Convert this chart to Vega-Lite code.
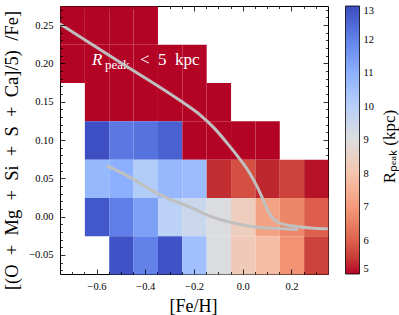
{
  "$schema": "https://vega.github.io/schema/vega-lite/v6.json",
  "width": 268,
  "height": 268,
  "autosize": {"type": "none"},
  "padding": {"left": 60, "top": 6, "right": 71, "bottom": 41},
  "background": "white",
  "config": {
    "view": {"stroke": "black", "strokeWidth": 1},
    "font": "Liberation Serif",
    "axis": {
      "grid": false,
      "domain": false,
      "labelFont": "Liberation Serif",
      "labelFontSize": 10.5,
      "labelColor": "black",
      "tickColor": "black",
      "tickWidth": 0.8,
      "titleFont": "Liberation Serif",
      "titleColor": "black",
      "titleFontWeight": "normal",
      "labelOverlap": false,
      "labelFlush": false
    },
    "legend": {
      "labelFont": "Liberation Serif",
      "titleFont": "Liberation Serif",
      "titleFontWeight": "normal",
      "labelColor": "black",
      "titleColor": "black"
    }
  },
  "datasets": {
    "cells": [
      {"fe": -0.75, "a": 0.225, "R": 4.8},
      {"fe": -0.65, "a": 0.225, "R": 4.8},
      {"fe": -0.55, "a": 0.225, "R": 4.8},
      {"fe": -0.45, "a": 0.225, "R": 4.8},
      {"fe": -0.75, "a": 0.175, "R": 4.8},
      {"fe": -0.65, "a": 0.175, "R": 4.8},
      {"fe": -0.55, "a": 0.175, "R": 4.8},
      {"fe": -0.45, "a": 0.175, "R": 4.8},
      {"fe": -0.35, "a": 0.175, "R": 4.8},
      {"fe": -0.25, "a": 0.175, "R": 4.8},
      {"fe": -0.65, "a": 0.125, "R": 4.8},
      {"fe": -0.55, "a": 0.125, "R": 4.8},
      {"fe": -0.45, "a": 0.125, "R": 4.8},
      {"fe": -0.35, "a": 0.125, "R": 4.8},
      {"fe": -0.25, "a": 0.125, "R": 4.8},
      {"fe": -0.15, "a": 0.125, "R": 4.8},
      {"fe": -0.65, "a": 0.075, "R": 12.95},
      {"fe": -0.55, "a": 0.075, "R": 12.2},
      {"fe": -0.45, "a": 0.075, "R": 12.3},
      {"fe": -0.35, "a": 0.075, "R": 12.6},
      {"fe": -0.25, "a": 0.075, "R": 4.8},
      {"fe": -0.15, "a": 0.075, "R": 4.8},
      {"fe": -0.05, "a": 0.075, "R": 4.8},
      {"fe": 0.05, "a": 0.075, "R": 4.8},
      {"fe": -0.65, "a": 0.025, "R": 10.77},
      {"fe": -0.55, "a": 0.025, "R": 11.0},
      {"fe": -0.45, "a": 0.025, "R": 10.14},
      {"fe": -0.35, "a": 0.025, "R": 10.75},
      {"fe": -0.25, "a": 0.025, "R": 10.65},
      {"fe": -0.15, "a": 0.025, "R": 5.3},
      {"fe": -0.05, "a": 0.025, "R": 5.76},
      {"fe": 0.05, "a": 0.025, "R": 5.24},
      {"fe": 0.15, "a": 0.025, "R": 5.58},
      {"fe": 0.25, "a": 0.025, "R": 5.07},
      {"fe": -0.65, "a": -0.025, "R": 12.8},
      {"fe": -0.55, "a": -0.025, "R": 12.08},
      {"fe": -0.45, "a": -0.025, "R": 11.35},
      {"fe": -0.35, "a": -0.025, "R": 9.9},
      {"fe": -0.25, "a": -0.025, "R": 9.54},
      {"fe": -0.15, "a": -0.025, "R": 9.1},
      {"fe": -0.05, "a": -0.025, "R": 8.36},
      {"fe": 0.05, "a": -0.025, "R": 7.19},
      {"fe": 0.15, "a": -0.025, "R": 6.66},
      {"fe": 0.25, "a": -0.025, "R": 5.97},
      {"fe": -0.55, "a": -0.075, "R": 12.87},
      {"fe": -0.45, "a": -0.075, "R": 12.0},
      {"fe": -0.35, "a": -0.075, "R": 12.87},
      {"fe": -0.25, "a": -0.075, "R": 10.53},
      {"fe": -0.15, "a": -0.075, "R": 9.1},
      {"fe": -0.05, "a": -0.075, "R": 8.24},
      {"fe": 0.05, "a": -0.075, "R": 7.83},
      {"fe": 0.15, "a": -0.075, "R": 6.86},
      {"fe": 0.25, "a": -0.075, "R": 5.57}
    ],
    "tracks": [
      {"track": "A", "fe": -0.75, "a": 0.2515},
      {"track": "A", "fe": -0.505, "a": 0.2018},
      {"track": "A", "fe": -0.26, "a": 0.1521},
      {"track": "A", "fe": -0.179, "a": 0.1338},
      {"track": "A", "fe": -0.117, "a": 0.1155},
      {"track": "A", "fe": -0.064, "a": 0.0959},
      {"track": "A", "fe": -0.015, "a": 0.0763},
      {"track": "A", "fe": 0.026, "a": 0.058},
      {"track": "A", "fe": 0.058, "a": 0.0397},
      {"track": "A", "fe": 0.079, "a": 0.0253},
      {"track": "A", "fe": 0.099, "a": 0.0109},
      {"track": "A", "fe": 0.123, "a": -0.0022},
      {"track": "A", "fe": 0.152, "a": -0.0087},
      {"track": "A", "fe": 0.213, "a": -0.0126},
      {"track": "A", "fe": 0.291, "a": -0.0152},
      {"track": "A", "fe": 0.344, "a": -0.0159},
      {"track": "B", "fe": -0.554, "a": 0.0658},
      {"track": "B", "fe": -0.464, "a": 0.0515},
      {"track": "B", "fe": -0.383, "a": 0.0358},
      {"track": "B", "fe": -0.309, "a": 0.024},
      {"track": "B", "fe": -0.219, "a": 0.0126},
      {"track": "B", "fe": -0.126, "a": -0.0005},
      {"track": "B", "fe": -0.028, "a": -0.0091},
      {"track": "B", "fe": 0.054, "a": -0.0135},
      {"track": "B", "fe": 0.148, "a": -0.0156},
      {"track": "B", "fe": 0.221, "a": -0.0169}
    ],
    "note": [
      {"fe": -0.619, "a": 0.198}
    ]
  },
  "layer": [
    {
      "data": {"name": "cells"},
      "mark": {"type": "rect", "binSpacing": 0},
      "encoding": {
        "x": {
          "field": "fe", "type": "quantitative",
          "bin": {"binned": true, "step": 0.1},
          "scale": {"domain": [-0.75, 0.35], "nice": false, "zero": false},
          "axis": {
            "orient": "bottom",
            "title": "[Fe/H]",
            "titleFontSize": 18,
            "titleX": 133,
            "titleY": 37,
            "titleBaseline": "alphabetic",
            "values": [-0.7, -0.65, -0.6, -0.55, -0.5, -0.45, -0.4, -0.35, -0.3, -0.25, -0.2, -0.15, -0.1, -0.05, 0, 0.05, 0.1, 0.15, 0.2, 0.25, 0.3],
            "labelExpr": "abs(datum.value*5 - round(datum.value*5)) < 0.001 ? replace(format(datum.value, '.1f'), '-', '\u2212') : ''",
            "tickSize": {"condition": {"test": "abs(datum.value*5 - round(datum.value*5)) < 0.001", "value": -5}, "value": -2.5},
            "labelPadding": 12
          }
        },
        "y": {
          "field": "a", "type": "quantitative",
          "bin": {"binned": true, "step": 0.05},
          "scale": {"domain": [-0.075, 0.275], "nice": false, "zero": false},
          "axis": {
            "orient": "left",
            "title": "[(O\u2002+\u2002Mg\u2002+\u2002Si\u2002+\u2002S\u2002+\u2002Ca]/5)\u2002/Fe]",
            "titleFontSize": 18.5,
            "titleX": -49,
            "titleY": 144,
            "titleAngle": 270,
            "titleAlign": "center",
            "titleBaseline": "middle",
            "values": [-0.07, -0.06, -0.05, -0.04, -0.03, -0.02, -0.01, 0, 0.01, 0.02, 0.03, 0.04, 0.05, 0.06, 0.07, 0.08, 0.09, 0.1, 0.11, 0.12, 0.13, 0.14, 0.15, 0.16, 0.17, 0.18, 0.19, 0.2, 0.21, 0.22, 0.23, 0.24, 0.25, 0.26, 0.27],
            "labelExpr": "abs(datum.value*20 - round(datum.value*20)) < 0.001 ? replace(format(datum.value, '.2f'), '-', '\u2212') : ''",
            "tickSize": {"condition": {"test": "abs(datum.value*20 - round(datum.value*20)) < 0.001", "value": -5}, "value": -2.5},
            "labelPadding": 12
          }
        },
        "color": {
          "field": "R", "type": "quantitative",
          "scale": {
            "domain": [5, 6, 7, 8, 9, 10, 11, 12, 13],
            "range": ["#b40426", "#de604d", "#f49a7b", "#f5c4ad", "#dddddd", "#b8d0f9", "#8db0fe", "#6282ea", "#3b4cc0"],
            "clamp": true
          },
          "legend": {
            "title": null,
            "orient": "none",
            "legendX": 285.5,
            "legendY": 0,
            "direction": "vertical",
            "values": [5, 6, 7, 8, 9, 10, 11, 12, 13],
            "gradientLength": 268,
            "gradientThickness": 14,
            "gradientStrokeColor": "black",
            "gradientStrokeWidth": 0.8,
            "labelFontSize": 10.5,
            "labelOffset": 4,
            "labelBaseline": "middle",
            "labelOverlap": false
          }
        }
      }
    },
    {
      "data": {"name": "note"},
      "mark": {"type": "text", "text": "R", "font": "Liberation Serif", "fontStyle": "italic", "fontSize": 17, "color": "white", "align": "left", "baseline": "alphabetic"},
      "encoding": {
        "x": {"field": "fe", "type": "quantitative", "axis": null},
        "y": {"field": "a", "type": "quantitative", "axis": null}
      }
    },
    {
      "data": {"name": "note"},
      "mark": {"type": "text", "text": "peak", "font": "Liberation Serif", "fontSize": 13, "color": "white", "align": "left", "baseline": "alphabetic", "dx": 13, "dy": 4},
      "encoding": {
        "x": {"field": "fe", "type": "quantitative", "axis": null},
        "y": {"field": "a", "type": "quantitative", "axis": null}
      }
    },
    {
      "data": {"name": "note"},
      "mark": {"type": "text", "text": "<\u20025\u2002kpc", "font": "Liberation Serif", "fontSize": 17, "color": "white", "align": "left", "baseline": "alphabetic", "dx": 48},
      "encoding": {
        "x": {"field": "fe", "type": "quantitative", "axis": null},
        "y": {"field": "a", "type": "quantitative", "axis": null}
      }
    },
    {
      "data": {"name": "tracks"},
      "mark": {"type": "line", "stroke": "#c0c0c0", "strokeWidth": 3, "clip": true, "strokeCap": "round", "interpolate": "monotone"},
      "encoding": {
        "x": {
          "field": "fe", "type": "quantitative",
          "axis": {
            "orient": "top", "title": null, "labels": false,
            "values": [-0.7, -0.65, -0.6, -0.55, -0.5, -0.45, -0.4, -0.35, -0.3, -0.25, -0.2, -0.15, -0.1, -0.05, 0, 0.05, 0.1, 0.15, 0.2, 0.25, 0.3],
            "tickSize": {"condition": {"test": "abs(datum.value*5 - round(datum.value*5)) < 0.001", "value": -5}, "value": -2.5}
          }
        },
        "y": {
          "field": "a", "type": "quantitative",
          "axis": {
            "orient": "right", "labels": false,
            "title": "R\u209a\u2091\u2090\u2096 (kpc)",
            "titleFontSize": 17,
            "titleX": 61,
            "titleY": 140,
            "titleAngle": 270,
            "titleAlign": "center",
            "titleBaseline": "middle",
            "values": [-0.07, -0.06, -0.05, -0.04, -0.03, -0.02, -0.01, 0, 0.01, 0.02, 0.03, 0.04, 0.05, 0.06, 0.07, 0.08, 0.09, 0.1, 0.11, 0.12, 0.13, 0.14, 0.15, 0.16, 0.17, 0.18, 0.19, 0.2, 0.21, 0.22, 0.23, 0.24, 0.25, 0.26, 0.27],
            "tickSize": {"condition": {"test": "abs(datum.value*20 - round(datum.value*20)) < 0.001", "value": -5}, "value": -2.5}
          }
        },
        "detail": {"field": "track"}
      }
    }
  ],
  "resolve": {"axis": {"x": "independent", "y": "independent"}}
}
